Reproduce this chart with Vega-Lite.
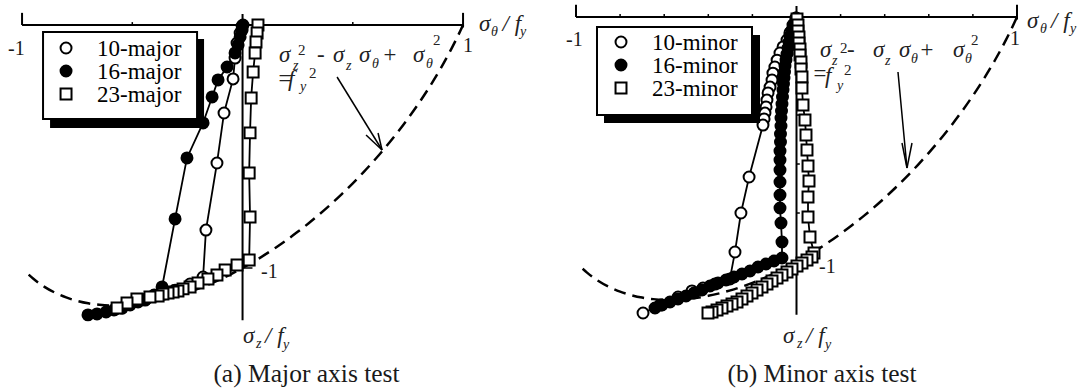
{
  "$schema": "https://vega.github.io/schema/vega-lite/v6.json",
  "background": "white",
  "padding": 0,
  "spacing": 0,
  "bounds": "flush",
  "config": {
    "view": {"stroke": null},
    "font": "Liberation Serif"
  },
  "datasets": {
    "ellipse": [
      {"th": -0.97, "z": -1.0275}, {"th": -0.95, "z": -1.0434}, {"th": -0.9, "z": -1.0765},
      {"th": -0.85, "z": -1.1018}, {"th": -0.8, "z": -1.1211}, {"th": -0.75, "z": -1.1353},
      {"th": -0.7, "z": -1.1453}, {"th": -0.65, "z": -1.1515}, {"th": -0.6, "z": -1.1544},
      {"th": -0.55, "z": -1.1543}, {"th": -0.5, "z": -1.1514}, {"th": -0.45, "z": -1.1459},
      {"th": -0.4, "z": -1.1381}, {"th": -0.35, "z": -1.128}, {"th": -0.3, "z": -1.1157},
      {"th": -0.25, "z": -1.1013}, {"th": -0.2, "z": -1.0849}, {"th": -0.15, "z": -1.0665},
      {"th": -0.1, "z": -1.0462}, {"th": -0.05, "z": -1.0241}, {"th": 0, "z": -1},
      {"th": 0.05, "z": -0.9741}, {"th": 0.1, "z": -0.9462}, {"th": 0.15, "z": -0.9165},
      {"th": 0.2, "z": -0.8849}, {"th": 0.25, "z": -0.8513}, {"th": 0.3, "z": -0.8157},
      {"th": 0.35, "z": -0.778}, {"th": 0.4, "z": -0.7381}, {"th": 0.45, "z": -0.6959},
      {"th": 0.5, "z": -0.6514}, {"th": 0.55, "z": -0.6043}, {"th": 0.6, "z": -0.5544},
      {"th": 0.65, "z": -0.5015}, {"th": 0.7, "z": -0.4453}, {"th": 0.75, "z": -0.3853},
      {"th": 0.8, "z": -0.3211}, {"th": 0.85, "z": -0.2518}, {"th": 0.9, "z": -0.1765},
      {"th": 0.95, "z": -0.0934}, {"th": 0.97, "z": -0.0575}, {"th": 0.99, "z": -0.0197},
      {"th": 1, "z": 0}
    ],
    "frame": [
      {"th": -1, "z": 0, "th2": 1, "z2": 0},
      {"th": -1, "z": 0, "th2": -1, "z2": 0.05},
      {"th": 1, "z": -0.01, "th2": 1, "z2": 0.05},
      {"th": 0, "z": 0.045, "th2": 0, "z2": -1.215}
    ],
    "ticksA": [
      {"th": -0.5, "z": 0, "th2": -0.5, "z2": 0.012},
      {"th": 0.5, "z": 0, "th2": 0.5, "z2": 0.012},
      {"th": 0, "z": -1, "th2": 0.045, "z2": -1}
    ],
    "ticksB": [
      {"th": -0.8, "z": 0, "th2": -0.8, "z2": 0.012},
      {"th": -0.6, "z": 0, "th2": -0.6, "z2": 0.012},
      {"th": -0.4, "z": 0, "th2": -0.4, "z2": 0.012},
      {"th": -0.2, "z": 0, "th2": -0.2, "z2": 0.012},
      {"th": 0.2, "z": 0, "th2": 0.2, "z2": 0.012},
      {"th": 0.4, "z": 0, "th2": 0.4, "z2": 0.012},
      {"th": 0.6, "z": 0, "th2": 0.6, "z2": 0.012},
      {"th": 0.8, "z": 0, "th2": 0.8, "z2": 0.012},
      {"th": 0, "z": -0.2, "th2": 0.015, "z2": -0.2},
      {"th": 0, "z": -0.4, "th2": 0.015, "z2": -0.4},
      {"th": 0, "z": -0.6, "th2": 0.015, "z2": -0.6},
      {"th": 0, "z": -0.8, "th2": 0.015, "z2": -0.8},
      {"th": 0, "z": -1, "th2": 0.015, "z2": -1}
    ],
    "arrowA": [
      {"th": 0.4286, "z": -0.214, "th2": 0.6327, "z2": -0.5144},
      {"th": 0.6327, "z": -0.5144, "th2": 0.5601, "z2": -0.4527},
      {"th": 0.6327, "z": -0.5144, "th2": 0.6145, "z2": -0.4444}
    ],
    "arrowB": [
      {"th": 0.4603, "z": -0.2245, "th2": 0.5011, "z2": -0.6163},
      {"th": 0.5011, "z": -0.6163, "th2": 0.4785, "z2": -0.5143},
      {"th": 0.5011, "z": -0.6163, "th2": 0.5238, "z2": -0.5143}
    ],
    "keyA": [
      {"s": "10-major", "th": -0.8005, "z": -0.0947, "lth": -0.6599, "lz": -0.1276},
      {"s": "16-major", "th": -0.8005, "z": -0.1893, "lth": -0.6599, "lz": -0.2222},
      {"s": "23-major", "th": -0.8005, "z": -0.284, "lth": -0.6599, "lz": -0.3169}
    ],
    "keyB": [
      {"s": "10-minor", "th": -0.7959, "z": -0.102, "lth": -0.6553, "lz": -0.1347},
      {"s": "16-minor", "th": -0.7959, "z": -0.1959, "lth": -0.6553, "lz": -0.2286},
      {"s": "23-minor", "th": -0.7959, "z": -0.2898, "lth": -0.6553, "lz": -0.3224}
    ],
    "major": [
      {"s": "10-major", "i": 1, "th": -0.002, "z": -0.004},
      {"s": "10-major", "i": 2, "th": -0.011, "z": -0.033},
      {"s": "10-major", "i": 3, "th": -0.025, "z": -0.074},
      {"s": "10-major", "i": 4, "th": -0.034, "z": -0.136},
      {"s": "10-major", "i": 5, "th": -0.043, "z": -0.222},
      {"s": "10-major", "i": 6, "th": -0.084, "z": -0.362},
      {"s": "10-major", "i": 7, "th": -0.116, "z": -0.568},
      {"s": "10-major", "i": 8, "th": -0.166, "z": -0.844},
      {"s": "10-major", "i": 9, "th": -0.179, "z": -1.037},
      {"s": "10-major", "i": 10, "th": -0.238, "z": -1.066},
      {"s": "10-major", "i": 11, "th": -0.306, "z": -1.091},
      {"s": "10-major", "i": 12, "th": -0.374, "z": -1.111},
      {"s": "10-major", "i": 13, "th": -0.442, "z": -1.132},
      {"s": "10-major", "i": 14, "th": -0.51, "z": -1.148},
      {"s": "10-major", "i": 15, "th": -0.578, "z": -1.169},
      {"s": "16-major", "i": 1, "th": 0.002, "z": 0},
      {"s": "16-major", "i": 2, "th": -0.002, "z": -0.021},
      {"s": "16-major", "i": 3, "th": -0.011, "z": -0.049},
      {"s": "16-major", "i": 4, "th": -0.02, "z": -0.082},
      {"s": "16-major", "i": 5, "th": -0.034, "z": -0.115},
      {"s": "16-major", "i": 6, "th": -0.07, "z": -0.173},
      {"s": "16-major", "i": 7, "th": -0.111, "z": -0.226},
      {"s": "16-major", "i": 8, "th": -0.138, "z": -0.296},
      {"s": "16-major", "i": 9, "th": -0.179, "z": -0.403},
      {"s": "16-major", "i": 10, "th": -0.252, "z": -0.547},
      {"s": "16-major", "i": 11, "th": -0.306, "z": -0.798},
      {"s": "16-major", "i": 12, "th": -0.365, "z": -1.078},
      {"s": "16-major", "i": 13, "th": -0.401, "z": -1.111},
      {"s": "16-major", "i": 14, "th": -0.438, "z": -1.128},
      {"s": "16-major", "i": 15, "th": -0.474, "z": -1.14},
      {"s": "16-major", "i": 16, "th": -0.51, "z": -1.152},
      {"s": "16-major", "i": 17, "th": -0.546, "z": -1.165},
      {"s": "16-major", "i": 18, "th": -0.583, "z": -1.173},
      {"s": "16-major", "i": 19, "th": -0.619, "z": -1.181},
      {"s": "16-major", "i": 20, "th": -0.66, "z": -1.189},
      {"s": "16-major", "i": 21, "th": -0.701, "z": -1.193},
      {"s": "23-major", "i": 1, "th": 0.07, "z": 0},
      {"s": "23-major", "i": 2, "th": 0.066, "z": -0.033},
      {"s": "23-major", "i": 3, "th": 0.061, "z": -0.07},
      {"s": "23-major", "i": 4, "th": 0.057, "z": -0.115},
      {"s": "23-major", "i": 5, "th": 0.048, "z": -0.193},
      {"s": "23-major", "i": 6, "th": 0.039, "z": -0.3},
      {"s": "23-major", "i": 7, "th": 0.034, "z": -0.444},
      {"s": "23-major", "i": 8, "th": 0.03, "z": -0.609},
      {"s": "23-major", "i": 9, "th": 0.034, "z": -0.79},
      {"s": "23-major", "i": 10, "th": 0.03, "z": -0.967},
      {"s": "23-major", "i": 11, "th": -0.025, "z": -0.988},
      {"s": "23-major", "i": 12, "th": -0.079, "z": -1.008},
      {"s": "23-major", "i": 13, "th": -0.116, "z": -1.029},
      {"s": "23-major", "i": 14, "th": -0.157, "z": -1.045},
      {"s": "23-major", "i": 15, "th": -0.202, "z": -1.062},
      {"s": "23-major", "i": 16, "th": -0.238, "z": -1.078},
      {"s": "23-major", "i": 17, "th": -0.27, "z": -1.086},
      {"s": "23-major", "i": 18, "th": -0.293, "z": -1.095},
      {"s": "23-major", "i": 19, "th": -0.315, "z": -1.099},
      {"s": "23-major", "i": 20, "th": -0.338, "z": -1.103},
      {"s": "23-major", "i": 21, "th": -0.361, "z": -1.107},
      {"s": "23-major", "i": 22, "th": -0.383, "z": -1.115},
      {"s": "23-major", "i": 23, "th": -0.42, "z": -1.119},
      {"s": "23-major", "i": 24, "th": -0.479, "z": -1.128},
      {"s": "23-major", "i": 25, "th": -0.524, "z": -1.144},
      {"s": "23-major", "i": 26, "th": -0.569, "z": -1.165}
    ],
    "minor": [
      {"s": "10-minor", "i": 1, "th": -0.002, "z": -0.004},
      {"s": "10-minor", "i": 2, "th": -0.016, "z": -0.033},
      {"s": "10-minor", "i": 3, "th": -0.03, "z": -0.065},
      {"s": "10-minor", "i": 4, "th": -0.043, "z": -0.094},
      {"s": "10-minor", "i": 5, "th": -0.061, "z": -0.122},
      {"s": "10-minor", "i": 6, "th": -0.075, "z": -0.147},
      {"s": "10-minor", "i": 7, "th": -0.088, "z": -0.176},
      {"s": "10-minor", "i": 8, "th": -0.098, "z": -0.204},
      {"s": "10-minor", "i": 9, "th": -0.107, "z": -0.229},
      {"s": "10-minor", "i": 10, "th": -0.111, "z": -0.257},
      {"s": "10-minor", "i": 11, "th": -0.12, "z": -0.286},
      {"s": "10-minor", "i": 12, "th": -0.129, "z": -0.31},
      {"s": "10-minor", "i": 13, "th": -0.134, "z": -0.339},
      {"s": "10-minor", "i": 14, "th": -0.138, "z": -0.367},
      {"s": "10-minor", "i": 15, "th": -0.143, "z": -0.392},
      {"s": "10-minor", "i": 16, "th": -0.147, "z": -0.416},
      {"s": "10-minor", "i": 17, "th": -0.152, "z": -0.441},
      {"s": "10-minor", "i": 18, "th": -0.215, "z": -0.653},
      {"s": "10-minor", "i": 19, "th": -0.252, "z": -0.8},
      {"s": "10-minor", "i": 20, "th": -0.279, "z": -0.959},
      {"s": "10-minor", "i": 21, "th": -0.302, "z": -1.069},
      {"s": "10-minor", "i": 22, "th": -0.37, "z": -1.09},
      {"s": "10-minor", "i": 23, "th": -0.424, "z": -1.106},
      {"s": "10-minor", "i": 24, "th": -0.474, "z": -1.118},
      {"s": "10-minor", "i": 25, "th": -0.537, "z": -1.143},
      {"s": "10-minor", "i": 26, "th": -0.619, "z": -1.176},
      {"s": "10-minor", "i": 27, "th": -0.696, "z": -1.208},
      {"s": "16-minor", "i": 1, "th": -0.0023, "z": -0.0041},
      {"s": "16-minor", "i": 2, "th": -0.0113, "z": -0.0286},
      {"s": "16-minor", "i": 3, "th": -0.0204, "z": -0.0531},
      {"s": "16-minor", "i": 4, "th": -0.0295, "z": -0.0776},
      {"s": "16-minor", "i": 5, "th": -0.034, "z": -0.102},
      {"s": "16-minor", "i": 6, "th": -0.0385, "z": -0.1265},
      {"s": "16-minor", "i": 7, "th": -0.0431, "z": -0.151},
      {"s": "16-minor", "i": 8, "th": -0.0476, "z": -0.1755},
      {"s": "16-minor", "i": 9, "th": -0.0522, "z": -0.2},
      {"s": "16-minor", "i": 10, "th": -0.0544, "z": -0.2245},
      {"s": "16-minor", "i": 11, "th": -0.0567, "z": -0.249},
      {"s": "16-minor", "i": 12, "th": -0.059, "z": -0.2735},
      {"s": "16-minor", "i": 13, "th": -0.0612, "z": -0.298},
      {"s": "16-minor", "i": 14, "th": -0.0635, "z": -0.3265},
      {"s": "16-minor", "i": 15, "th": -0.0658, "z": -0.3551},
      {"s": "16-minor", "i": 16, "th": -0.068, "z": -0.3837},
      {"s": "16-minor", "i": 17, "th": -0.0703, "z": -0.4122},
      {"s": "16-minor", "i": 18, "th": -0.0703, "z": -0.4449},
      {"s": "16-minor", "i": 19, "th": -0.0726, "z": -0.4776},
      {"s": "16-minor", "i": 20, "th": -0.0726, "z": -0.5102},
      {"s": "16-minor", "i": 21, "th": -0.0748, "z": -0.5469},
      {"s": "16-minor", "i": 22, "th": -0.0748, "z": -0.5837},
      {"s": "16-minor", "i": 23, "th": -0.0748, "z": -0.6245},
      {"s": "16-minor", "i": 24, "th": -0.0748, "z": -0.6735},
      {"s": "16-minor", "i": 25, "th": -0.0748, "z": -0.7265},
      {"s": "16-minor", "i": 26, "th": -0.0748, "z": -0.7796},
      {"s": "16-minor", "i": 27, "th": -0.0703, "z": -0.8408},
      {"s": "16-minor", "i": 28, "th": -0.0658, "z": -0.9184},
      {"s": "16-minor", "i": 29, "th": -0.0658, "z": -0.9837},
      {"s": "16-minor", "i": 30, "th": -0.102, "z": -0.9959},
      {"s": "16-minor", "i": 31, "th": -0.1383, "z": -1.0082},
      {"s": "16-minor", "i": 32, "th": -0.1746, "z": -1.0204},
      {"s": "16-minor", "i": 33, "th": -0.2109, "z": -1.0367},
      {"s": "16-minor", "i": 34, "th": -0.2472, "z": -1.049},
      {"s": "16-minor", "i": 35, "th": -0.2834, "z": -1.0612},
      {"s": "16-minor", "i": 36, "th": -0.3197, "z": -1.0735},
      {"s": "16-minor", "i": 37, "th": -0.356, "z": -1.0857},
      {"s": "16-minor", "i": 38, "th": -0.3923, "z": -1.098},
      {"s": "16-minor", "i": 39, "th": -0.4286, "z": -1.1143},
      {"s": "16-minor", "i": 40, "th": -0.4649, "z": -1.1265},
      {"s": "16-minor", "i": 41, "th": -0.5011, "z": -1.1388},
      {"s": "16-minor", "i": 42, "th": -0.5374, "z": -1.151},
      {"s": "16-minor", "i": 43, "th": -0.5737, "z": -1.1633},
      {"s": "16-minor", "i": 44, "th": -0.61, "z": -1.1755},
      {"s": "16-minor", "i": 45, "th": -0.6417, "z": -1.1878},
      {"s": "23-minor", "i": 1, "th": 0.0023, "z": -0.0082},
      {"s": "23-minor", "i": 2, "th": 0.0068, "z": -0.0327},
      {"s": "23-minor", "i": 3, "th": 0.0068, "z": -0.0571},
      {"s": "23-minor", "i": 4, "th": 0.0113, "z": -0.0816},
      {"s": "23-minor", "i": 5, "th": 0.0113, "z": -0.1061},
      {"s": "23-minor", "i": 6, "th": 0.0159, "z": -0.1306},
      {"s": "23-minor", "i": 7, "th": 0.0159, "z": -0.1551},
      {"s": "23-minor", "i": 8, "th": 0.0204, "z": -0.1837},
      {"s": "23-minor", "i": 9, "th": 0.0204, "z": -0.2122},
      {"s": "23-minor", "i": 10, "th": 0.0249, "z": -0.2449},
      {"s": "23-minor", "i": 11, "th": 0.0249, "z": -0.2898},
      {"s": "23-minor", "i": 12, "th": 0.0295, "z": -0.3592},
      {"s": "23-minor", "i": 13, "th": 0.0385, "z": -0.4204},
      {"s": "23-minor", "i": 14, "th": 0.0431, "z": -0.4816},
      {"s": "23-minor", "i": 15, "th": 0.0476, "z": -0.5429},
      {"s": "23-minor", "i": 16, "th": 0.0522, "z": -0.6082},
      {"s": "23-minor", "i": 17, "th": 0.0567, "z": -0.6694},
      {"s": "23-minor", "i": 18, "th": 0.0522, "z": -0.7347},
      {"s": "23-minor", "i": 19, "th": 0.0522, "z": -0.8163},
      {"s": "23-minor", "i": 20, "th": 0.0612, "z": -0.898},
      {"s": "23-minor", "i": 21, "th": 0.0794, "z": -0.9633},
      {"s": "23-minor", "i": 22, "th": 0.0703, "z": -0.9796},
      {"s": "23-minor", "i": 23, "th": 0.0476, "z": -0.9918},
      {"s": "23-minor", "i": 24, "th": 0.0249, "z": -1.0041},
      {"s": "23-minor", "i": 25, "th": 0.0023, "z": -1.0163},
      {"s": "23-minor", "i": 26, "th": -0.0204, "z": -1.0286},
      {"s": "23-minor", "i": 27, "th": -0.0431, "z": -1.0408},
      {"s": "23-minor", "i": 28, "th": -0.0658, "z": -1.0531},
      {"s": "23-minor", "i": 29, "th": -0.0884, "z": -1.0653},
      {"s": "23-minor", "i": 30, "th": -0.1111, "z": -1.0776},
      {"s": "23-minor", "i": 31, "th": -0.1338, "z": -1.0898},
      {"s": "23-minor", "i": 32, "th": -0.1565, "z": -1.102},
      {"s": "23-minor", "i": 33, "th": -0.1791, "z": -1.1143},
      {"s": "23-minor", "i": 34, "th": -0.2018, "z": -1.1265},
      {"s": "23-minor", "i": 35, "th": -0.2245, "z": -1.1388},
      {"s": "23-minor", "i": 36, "th": -0.2472, "z": -1.151},
      {"s": "23-minor", "i": 37, "th": -0.2698, "z": -1.1633},
      {"s": "23-minor", "i": 38, "th": -0.2925, "z": -1.1714},
      {"s": "23-minor", "i": 39, "th": -0.3152, "z": -1.1796},
      {"s": "23-minor", "i": 40, "th": -0.3379, "z": -1.1878},
      {"s": "23-minor", "i": 41, "th": -0.3605, "z": -1.1959},
      {"s": "23-minor", "i": 42, "th": -0.3832, "z": -1.2041},
      {"s": "23-minor", "i": 43, "th": -0.4014, "z": -1.2082}
    ],
    "textA": [
      {"k": "lab", "t": "-1", "th": -1.0635, "z": -0.1235},
      {"k": "lab", "t": "1", "th": 1.0, "z": -0.1111},
      {"k": "lab", "t": "-1", "th": 0.0839, "z": -1.0412},
      {"k": "big", "t": "σ", "th": 1.0726, "z": -0.0247},
      {"k": "big", "t": "/ f", "th": 1.1791, "z": -0.0247},
      {"k": "big", "t": "σ", "th": 0.0023, "z": -1.3086},
      {"k": "big", "t": "/ f", "th": 0.102, "z": -1.3086},
      {"k": "big", "t": "σ", "th": 0.1655, "z": -0.1523},
      {"k": "big", "t": "-", "th": 0.3379, "z": -0.1523},
      {"k": "big", "t": "σ", "th": 0.4104, "z": -0.1523},
      {"k": "big", "t": "σ", "th": 0.5283, "z": -0.1523},
      {"k": "big", "t": "+", "th": 0.6327, "z": -0.1523},
      {"k": "big", "t": "σ", "th": 0.7732, "z": -0.1523},
      {"k": "big", "t": "=", "th": 0.1565, "z": -0.251},
      {"k": "big", "t": "f", "th": 0.2063, "z": -0.251},
      {"k": "sub", "t": "θ", "th": 1.127, "z": -0.0453},
      {"k": "sub", "t": "y", "th": 1.2585, "z": -0.0453},
      {"k": "sub", "t": "z", "th": 0.0612, "z": -1.3292},
      {"k": "sub", "t": "y", "th": 0.1837, "z": -1.3333},
      {"k": "sub", "t": "z", "th": 0.229, "z": -0.1852},
      {"k": "sub", "t": "z", "th": 0.4694, "z": -0.1852},
      {"k": "sub", "t": "θ", "th": 0.5873, "z": -0.177},
      {"k": "sub", "t": "θ", "th": 0.8322, "z": -0.177},
      {"k": "sub", "t": "y", "th": 0.2608, "z": -0.2716},
      {"k": "sup", "t": "2", "th": 0.2517, "z": -0.1235},
      {"k": "sup", "t": "2", "th": 0.8639, "z": -0.0823},
      {"k": "sup", "t": "2", "th": 0.3016, "z": -0.2181},
      {"k": "cap", "t": "(a) Major axis test", "th": 0.29, "z": -1.469}
    ],
    "textB": [
      {"k": "lab", "t": "-1", "th": -1.0454, "z": -0.1184},
      {"k": "lab", "t": "1", "th": 0.9683, "z": -0.1143},
      {"k": "lab", "t": "-1", "th": 0.102, "z": -1.0449},
      {"k": "big", "t": "σ", "th": 1.0454, "z": -0.0449},
      {"k": "big", "t": "/ f", "th": 1.1542, "z": -0.0449},
      {"k": "big", "t": "σ", "th": -0.0612, "z": -1.3306},
      {"k": "big", "t": "/ f", "th": 0.0431, "z": -1.3306},
      {"k": "big", "t": "σ", "th": 0.1066, "z": -0.1633},
      {"k": "big", "t": "-", "th": 0.229, "z": -0.1633},
      {"k": "big", "t": "σ", "th": 0.3469, "z": -0.1633},
      {"k": "big", "t": "σ", "th": 0.4649, "z": -0.1633},
      {"k": "big", "t": "+", "th": 0.5556, "z": -0.1633},
      {"k": "big", "t": "σ", "th": 0.7098, "z": -0.1633},
      {"k": "big", "t": "=", "th": 0.0703, "z": -0.2612},
      {"k": "big", "t": "f", "th": 0.1293, "z": -0.2694},
      {"k": "sub", "t": "θ", "th": 1.1043, "z": -0.0653},
      {"k": "sub", "t": "y", "th": 1.2404, "z": -0.0653},
      {"k": "sub", "t": "z", "th": 0.0023, "z": -1.351},
      {"k": "sub", "t": "y", "th": 0.1293, "z": -1.3551},
      {"k": "sub", "t": "z", "th": 0.161, "z": -0.1959},
      {"k": "sub", "t": "z", "th": 0.4014, "z": -0.1959},
      {"k": "sub", "t": "θ", "th": 0.5193, "z": -0.1878},
      {"k": "sub", "t": "θ", "th": 0.7642, "z": -0.1878},
      {"k": "sub", "t": "y", "th": 0.1837, "z": -0.298},
      {"k": "sup", "t": "2", "th": 0.1973, "z": -0.1469},
      {"k": "sup", "t": "2", "th": 0.7914, "z": -0.1143},
      {"k": "sup", "t": "2", "th": 0.2154, "z": -0.2367},
      {"k": "cap", "t": "(b) Minor axis test", "th": 0.1156, "z": -1.4898}
    ]
  },
  "hconcat": [
    {
      "width": 540,
      "height": 391,
      "encoding": {
        "x": {"field": "th", "type": "quantitative", "scale": {"domain": [-1.1, 1.349], "nice": false, "zero": false}, "axis": null},
        "y": {"field": "z", "type": "quantitative", "scale": {"domain": [-1.5062, 0.1029], "nice": false, "zero": false}, "axis": null}
      },
      "layer": [
        {
          "data": {"name": "frame"},
          "mark": {"type": "rule", "color": "black", "strokeWidth": 2},
          "encoding": {"x2": {"field": "th2"}, "y2": {"field": "z2"}}
        },
        {
          "data": {"name": "ticksA"},
          "mark": {"type": "rule", "color": "black", "strokeWidth": 1.5},
          "encoding": {"x2": {"field": "th2"}, "y2": {"field": "z2"}}
        },
        {
          "data": {"name": "ellipse"},
          "mark": {"type": "line", "color": "black", "strokeWidth": 2.5, "strokeDash": [12, 7], "interpolate": "monotone"},
          "encoding": {}
        },
        {
          "data": {"name": "arrowA"},
          "mark": {"type": "rule", "color": "black", "strokeWidth": 1.5},
          "encoding": {"x2": {"field": "th2"}, "y2": {"field": "z2"}}
        },
        {
          "data": {"name": "major"},
          "mark": {"type": "line", "color": "black", "strokeWidth": 1.8},
          "encoding": {"detail": {"field": "s"}, "order": {"field": "i", "type": "quantitative"}}
        },
        {
          "data": {"name": "major"},
          "mark": {"type": "point", "filled": true, "stroke": "black", "strokeWidth": 2, "size": 120, "opacity": 1},
          "encoding": {
            "shape": {"field": "s", "type": "nominal", "scale": {"domain": ["10-major", "16-major", "23-major"], "range": ["circle", "circle", "square"]}, "legend": null},
            "fill": {"field": "s", "type": "nominal", "scale": {"domain": ["10-major", "16-major", "23-major"], "range": ["white", "black", "white"]}, "legend": null}
          }
        },
        {
          "data": {"values": [{"th": -0.873, "z": -0.0576, "th2": -0.1746, "z2": -0.4239}]},
          "mark": {"type": "rect", "color": "black"},
          "encoding": {"x2": {"field": "th2"}, "y2": {"field": "z2"}}
        },
        {
          "data": {"values": [{"th": -0.9048, "z": -0.0288, "th2": -0.2063, "z2": -0.3868}]},
          "mark": {"type": "rect", "fill": "white", "stroke": "black", "strokeWidth": 2},
          "encoding": {"x2": {"field": "th2"}, "y2": {"field": "z2"}}
        },
        {
          "data": {"name": "keyA"},
          "mark": {"type": "point", "filled": true, "stroke": "black", "strokeWidth": 2, "size": 120, "opacity": 1},
          "encoding": {
            "shape": {"field": "s", "type": "nominal", "legend": null},
            "fill": {"field": "s", "type": "nominal", "legend": null}
          }
        },
        {
          "data": {"name": "keyA"},
          "mark": {"type": "text", "font": "Liberation Serif", "fontSize": 23, "align": "left", "baseline": "alphabetic", "color": "black"},
          "encoding": {"x": {"field": "lth", "type": "quantitative"}, "y": {"field": "lz", "type": "quantitative"}, "text": {"field": "s"}}
        },
        {
          "data": {"name": "textA"},
          "transform": [{"filter": "datum.k === 'lab'"}],
          "mark": {"type": "text", "font": "Liberation Serif", "fontSize": 20, "align": "left", "baseline": "alphabetic", "color": "#1a1a1a"},
          "encoding": {"text": {"field": "t"}}
        },
        {
          "data": {"name": "textA"},
          "transform": [{"filter": "datum.k === 'big'"}],
          "mark": {"type": "text", "font": "Liberation Serif", "fontSize": 23, "fontStyle": "italic", "align": "left", "baseline": "alphabetic", "color": "#222"},
          "encoding": {"text": {"field": "t"}}
        },
        {
          "data": {"name": "textA"},
          "transform": [{"filter": "datum.k === 'sub'"}],
          "mark": {"type": "text", "font": "Liberation Serif", "fontSize": 14, "fontStyle": "italic", "align": "left", "baseline": "alphabetic", "color": "#222"},
          "encoding": {"text": {"field": "t"}}
        },
        {
          "data": {"name": "textA"},
          "transform": [{"filter": "datum.k === 'sup'"}],
          "mark": {"type": "text", "font": "Liberation Serif", "fontSize": 15, "align": "left", "baseline": "alphabetic", "color": "#222"},
          "encoding": {"text": {"field": "t"}}
        },
        {
          "data": {"name": "textA"},
          "transform": [{"filter": "datum.k === 'cap'"}],
          "mark": {"type": "text", "font": "Liberation Serif", "fontSize": 25.5, "align": "center", "baseline": "alphabetic", "color": "#1a1a1a"},
          "encoding": {"text": {"field": "t"}}
        }
      ]
    },
    {
      "width": 544,
      "height": 391,
      "encoding": {
        "x": {"field": "th", "type": "quantitative", "scale": {"domain": [-1.1633, 1.3039], "nice": false, "zero": false}, "axis": null},
        "y": {"field": "z", "type": "quantitative", "scale": {"domain": [-1.5265, 0.0694], "nice": false, "zero": false}, "axis": null}
      },
      "layer": [
        {
          "data": {"name": "frame"},
          "mark": {"type": "rule", "color": "black", "strokeWidth": 2},
          "encoding": {"x2": {"field": "th2"}, "y2": {"field": "z2"}}
        },
        {
          "data": {"name": "ticksB"},
          "mark": {"type": "rule", "color": "black", "strokeWidth": 1.5},
          "encoding": {"x2": {"field": "th2"}, "y2": {"field": "z2"}}
        },
        {
          "data": {"name": "ellipse"},
          "mark": {"type": "line", "color": "black", "strokeWidth": 2.5, "strokeDash": [12, 7], "interpolate": "monotone"},
          "encoding": {}
        },
        {
          "data": {"name": "arrowB"},
          "mark": {"type": "rule", "color": "black", "strokeWidth": 1.5},
          "encoding": {"x2": {"field": "th2"}, "y2": {"field": "z2"}}
        },
        {
          "data": {"name": "minor"},
          "mark": {"type": "line", "color": "black", "strokeWidth": 1.8},
          "encoding": {"detail": {"field": "s"}, "order": {"field": "i", "type": "quantitative"}}
        },
        {
          "data": {"name": "minor"},
          "mark": {"type": "point", "filled": true, "stroke": "black", "strokeWidth": 2, "size": 120, "opacity": 1},
          "encoding": {
            "shape": {"field": "s", "type": "nominal", "scale": {"domain": ["10-minor", "16-minor", "23-minor"], "range": ["circle", "circle", "square"]}, "legend": null},
            "fill": {"field": "s", "type": "nominal", "scale": {"domain": ["10-minor", "16-minor", "23-minor"], "range": ["white", "black", "white"]}, "legend": null}
          }
        },
        {
          "data": {"values": [{"th": -0.873, "z": -0.0735, "th2": -0.1655, "z2": -0.4327}]},
          "mark": {"type": "rect", "color": "black"},
          "encoding": {"x2": {"field": "th2"}, "y2": {"field": "z2"}}
        },
        {
          "data": {"values": [{"th": -0.9048, "z": -0.0408, "th2": -0.2018, "z2": -0.4}]},
          "mark": {"type": "rect", "fill": "white", "stroke": "black", "strokeWidth": 2},
          "encoding": {"x2": {"field": "th2"}, "y2": {"field": "z2"}}
        },
        {
          "data": {"name": "keyB"},
          "mark": {"type": "point", "filled": true, "stroke": "black", "strokeWidth": 2, "size": 120, "opacity": 1},
          "encoding": {
            "shape": {"field": "s", "type": "nominal", "legend": null},
            "fill": {"field": "s", "type": "nominal", "legend": null}
          }
        },
        {
          "data": {"name": "keyB"},
          "mark": {"type": "text", "font": "Liberation Serif", "fontSize": 23, "align": "left", "baseline": "alphabetic", "color": "black"},
          "encoding": {"x": {"field": "lth", "type": "quantitative"}, "y": {"field": "lz", "type": "quantitative"}, "text": {"field": "s"}}
        },
        {
          "data": {"name": "textB"},
          "transform": [{"filter": "datum.k === 'lab'"}],
          "mark": {"type": "text", "font": "Liberation Serif", "fontSize": 20, "align": "left", "baseline": "alphabetic", "color": "#1a1a1a"},
          "encoding": {"text": {"field": "t"}}
        },
        {
          "data": {"name": "textB"},
          "transform": [{"filter": "datum.k === 'big'"}],
          "mark": {"type": "text", "font": "Liberation Serif", "fontSize": 23, "fontStyle": "italic", "align": "left", "baseline": "alphabetic", "color": "#222"},
          "encoding": {"text": {"field": "t"}}
        },
        {
          "data": {"name": "textB"},
          "transform": [{"filter": "datum.k === 'sub'"}],
          "mark": {"type": "text", "font": "Liberation Serif", "fontSize": 14, "fontStyle": "italic", "align": "left", "baseline": "alphabetic", "color": "#222"},
          "encoding": {"text": {"field": "t"}}
        },
        {
          "data": {"name": "textB"},
          "transform": [{"filter": "datum.k === 'sup'"}],
          "mark": {"type": "text", "font": "Liberation Serif", "fontSize": 15, "align": "left", "baseline": "alphabetic", "color": "#222"},
          "encoding": {"text": {"field": "t"}}
        },
        {
          "data": {"name": "textB"},
          "transform": [{"filter": "datum.k === 'cap'"}],
          "mark": {"type": "text", "font": "Liberation Serif", "fontSize": 25.5, "align": "center", "baseline": "alphabetic", "color": "#1a1a1a"},
          "encoding": {"text": {"field": "t"}}
        }
      ]
    }
  ],
  "resolve": {
    "scale": {"x": "independent", "y": "independent", "shape": "independent", "fill": "independent"}
  }
}
